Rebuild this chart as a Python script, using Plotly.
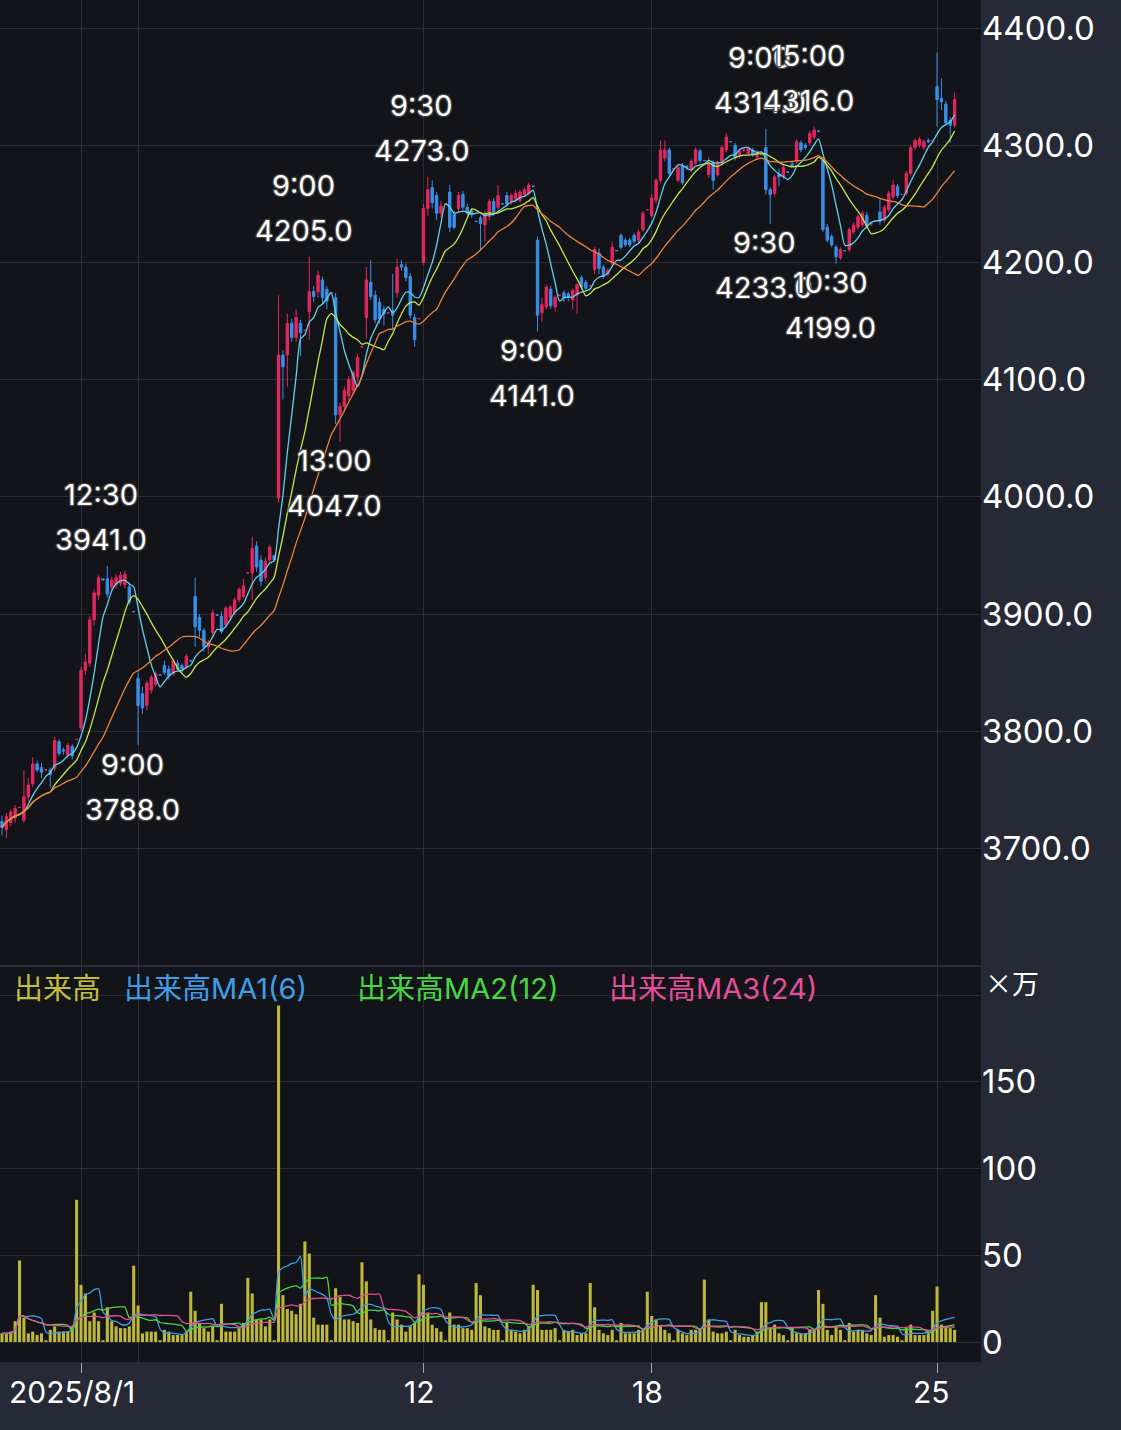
import plotly.graph_objects as go
import pandas as pd

# ---------------- data (30-minute bars, 13 per trading day) ----------------
day_starts = [0, 13, 78, 130, 195]          # bar index of 9:00 on 8/1, 8/4, 8/12, 8/18, 8/25
tick_idx = [0, 78, 130, 195]
tick_text = ["2025/8/1", "12", "18", "25"]

opens = [
    3723, 3716, 3722, 3726, 3735,
    3724, 3744, 3755, 3772, 3769, 3767, 3767, 3768, 3791, 3784, 3780, 3787, 3793,
    3803, 3852, 3858, 3895, 3916, 3930, 3930, 3923, 3925, 3926, 3925, 3923, 3902,
    3845, 3832, 3822, 3835, 3840, 3848, 3856, 3853, 3849, 3858, 3856, 3855, 3860,
    3915, 3897, 3886, 3872, 3884, 3899, 3898, 3891, 3897, 3901, 3912, 3915, 3935,
    3935, 3958, 3946, 3931, 3946, 3950, 3999, 4121, 4121, 4148, 4136, 4148, 4142,
    4158, 4175, 4175, 4185, 4177, 4174, 4170, 4070, 4077, 4086, 4091, 4102, 4128,
    4153, 4183, 4172, 4166, 4160, 4157, 4159, 4174, 4198, 4196, 4188, 4153, 4152,
    4200, 4246, 4264, 4257, 4242, 4250, 4260, 4241, 4246, 4258, 4247, 4244, 4235,
    4238, 4232, 4239, 4252, 4247, 4250, 4257, 4252, 4254, 4253, 4258, 4259, 4265,
    4219, 4157, 4162, 4177, 4162, 4172, 4174, 4173, 4168, 4172, 4187, 4183, 4180,
    4194, 4208, 4196, 4190, 4199, 4210, 4223, 4219, 4219, 4223, 4219, 4228, 4245,
    4240, 4253, 4270, 4289, 4296, 4280, 4270, 4282, 4282, 4279, 4285, 4295, 4287,
    4275, 4285, 4275, 4285, 4296, 4303, 4300, 4291, 4296, 4293, 4296, 4290, 4292,
    4298, 4262, 4259, 4275, 4273, 4277, 4284, 4286, 4302, 4300, 4302, 4307, 4312,
    4287, 4230, 4222, 4213, 4204, 4210, 4211, 4226, 4230, 4232, 4240, 4233, 4235,
    4243, 4236, 4245, 4256, 4265, 4258, 4259, 4276, 4298, 4300, 4298, 4304, 4304,
    4350, 4340, 4335, 4321, 4317,
]
highs = [
    3728, 3730, 3733, 3737, 3735,
    3767, 3760, 3778, 3775, 3773, 3767, 3769, 3795, 3793, 3786, 3790, 3789, 3793,
    3855, 3866, 3898, 3921, 3933, 3930, 3941, 3932, 3934, 3936, 3937, 3927, 3902,
    3850, 3838, 3843, 3848, 3851, 3848, 3860, 3856, 3862, 3861, 3858, 3866, 3860,
    3931, 3900, 3888, 3878, 3904, 3899, 3902, 3907, 3908, 3914, 3923, 3930, 3935,
    3966, 3962, 3950, 3948, 3959, 3950, 4172, 4125, 4156, 4152, 4160, 4151, 4142,
    4205, 4180, 4193, 4188, 4180, 4174, 4174, 4080, 4094, 4103, 4108, 4122, 4128,
    4196, 4202, 4176, 4170, 4163, 4157, 4190, 4203, 4202, 4199, 4191, 4156, 4152,
    4250, 4273, 4270, 4260, 4252, 4250, 4266, 4244, 4260, 4261, 4250, 4246, 4235,
    4240, 4244, 4254, 4255, 4266, 4250, 4260, 4259, 4262, 4262, 4264, 4268, 4265,
    4222, 4170, 4181, 4180, 4172, 4172, 4176, 4175, 4178, 4182, 4189, 4185, 4180,
    4213, 4212, 4198, 4195, 4218, 4210, 4225, 4221, 4221, 4225, 4228, 4244, 4245,
    4258, 4272, 4304, 4304, 4298, 4280, 4283, 4285, 4283, 4288, 4298, 4297, 4287,
    4290, 4287, 4287, 4300, 4310, 4303, 4302, 4297, 4298, 4299, 4298, 4296, 4292,
    4314, 4264, 4275, 4280, 4283, 4277, 4286, 4305, 4304, 4302, 4312, 4316, 4312,
    4290, 4233, 4224, 4215, 4213, 4210, 4230, 4234, 4241, 4244, 4243, 4234, 4235,
    4255, 4249, 4261, 4270, 4267, 4258, 4278, 4300, 4306, 4307, 4305, 4306, 4304,
    4379, 4357, 4338, 4324, 4345,
]
lows = [
    3711, 3709, 3719, 3722, 3735,
    3722, 3740, 3752, 3765, 3760, 3767, 3752, 3766, 3779, 3780, 3777, 3776, 3793,
    3800, 3848, 3855, 3890, 3912, 3929, 3914, 3918, 3922, 3924, 3922, 3908, 3902,
    3788, 3815, 3818, 3832, 3838, 3848, 3848, 3844, 3847, 3851, 3850, 3853, 3860,
    3872, 3880, 3868, 3866, 3880, 3899, 3883, 3888, 3894, 3899, 3910, 3913, 3935,
    3912, 3936, 3924, 3928, 3943, 3946, 3995, 4083, 4094, 4132, 4132, 4120, 4142,
    4134, 4166, 4170, 4165, 4160, 4174, 4062, 4047, 4072, 4082, 4088, 4098, 4128,
    4135, 4168, 4148, 4148, 4146, 4157, 4142, 4170, 4193, 4184, 4152, 4128, 4152,
    4198, 4240, 4246, 4236, 4238, 4250, 4226, 4228, 4243, 4245, 4240, 4238, 4235,
    4211, 4218, 4236, 4240, 4244, 4250, 4248, 4249, 4251, 4251, 4256, 4257, 4265,
    4141, 4149, 4160, 4160, 4158, 4172, 4166, 4167, 4160, 4156, 4177, 4176, 4180,
    4190, 4190, 4186, 4188, 4197, 4210, 4211, 4213, 4213, 4216, 4217, 4226, 4245,
    4238, 4250, 4268, 4286, 4274, 4280, 4268, 4266, 4279, 4277, 4283, 4285, 4287,
    4272, 4262, 4273, 4283, 4294, 4303, 4287, 4289, 4294, 4291, 4290, 4288, 4292,
    4258, 4233, 4256, 4265, 4271, 4277, 4282, 4284, 4294, 4296, 4300, 4305, 4312,
    4226, 4217, 4213, 4199, 4202, 4210, 4209, 4224, 4228, 4230, 4229, 4231, 4235,
    4232, 4234, 4243, 4254, 4255, 4258, 4257, 4274, 4296, 4298, 4296, 4302, 4304,
    4316, 4330, 4317, 4302, 4315,
]
closes = [
    3718, 3727, 3731, 3734, 3735,
    3744, 3754, 3772, 3767, 3765, 3767, 3763, 3792, 3781, 3783, 3788, 3779, 3793,
    3852, 3859, 3895, 3918, 3931, 3929, 3917, 3929, 3931, 3933, 3934, 3910, 3902,
    3822, 3820, 3841, 3846, 3849, 3848, 3850, 3847, 3860, 3853, 3853, 3864, 3860,
    3889, 3886, 3872, 3875, 3901, 3899, 3885, 3905, 3906, 3912, 3921, 3924, 3935,
    3956, 3940, 3928, 3945, 3957, 3946, 4121, 4111, 4148, 4136, 4153, 4140, 4142,
    4175, 4171, 4189, 4170, 4167, 4174, 4070, 4077, 4091, 4100, 4106, 4119, 4128,
    4185, 4171, 4151, 4152, 4156, 4157, 4155, 4196, 4196, 4187, 4155, 4134, 4152,
    4246, 4262, 4251, 4242, 4248, 4250, 4230, 4230, 4257, 4247, 4242, 4241, 4235,
    4233, 4241, 4252, 4243, 4257, 4250, 4250, 4257, 4259, 4260, 4262, 4266, 4265,
    4155, 4164, 4179, 4163, 4170, 4172, 4170, 4170, 4176, 4181, 4179, 4178, 4180,
    4211, 4195, 4188, 4193, 4213, 4210, 4213, 4215, 4215, 4218, 4226, 4242, 4245,
    4255, 4270, 4296, 4296, 4276, 4280, 4281, 4268, 4281, 4286, 4296, 4287, 4287,
    4285, 4270, 4285, 4298, 4307, 4303, 4289, 4295, 4296, 4297, 4292, 4294, 4292,
    4262, 4258, 4273, 4273, 4281, 4277, 4283, 4303, 4296, 4298, 4310, 4313, 4312,
    4228, 4219, 4215, 4205, 4211, 4210, 4228, 4232, 4239, 4242, 4231, 4233, 4235,
    4235, 4247, 4259, 4266, 4257, 4258, 4276, 4298, 4304, 4305, 4303, 4303, 4304,
    4339, 4337, 4319, 4317, 4339,
]
volumes = [  # 万株
    5, 5, 6, 12, 47,
    14, 5, 6, 4, 5, 1, 7, 9, 6, 6, 6, 9, 82,
    33, 28, 12, 17, 12, 1, 20, 12, 9, 8, 8, 9, 44,
    21, 5, 6, 6, 6, 1, 7, 6, 4, 4, 4, 6, 29,
    18, 11, 8, 6, 9, 1, 22, 6, 6, 6, 8, 11, 37,
    28, 13, 13, 9, 13, 1, 194, 27, 19, 18, 16, 22, 58,
    51, 14, 10, 10, 10, 1, 31, 26, 13, 13, 12, 11, 46,
    35, 13, 8, 7, 7, 1, 17, 13, 10, 6, 9, 11, 39,
    33, 17, 10, 8, 6, 1, 17, 10, 10, 8, 8, 7, 34,
    27, 9, 8, 7, 7, 1, 11, 7, 6, 5, 7, 9, 33,
    30, 7, 7, 7, 8, 1, 7, 6, 7, 4, 5, 5, 34,
    20, 7, 5, 4, 7, 1, 11, 5, 5, 5, 7, 7, 29,
    15, 13, 9, 7, 5, 1, 7, 5, 4, 7, 7, 8, 36,
    13, 6, 5, 5, 6, 1, 7, 4, 3, 3, 4, 6, 23,
    23, 8, 10, 5, 4, 1, 8, 5, 5, 5, 7, 7, 30,
    22, 7, 4, 9, 7, 1, 11, 6, 7, 7, 5, 4, 27,
    14, 3, 4, 4, 3, 1, 8, 10, 4, 4, 4, 5, 18,
    32, 10, 9, 8, 7,
]
bar_index = list(range(-18, -18 + len(closes)))

# high / low markers
mark_idx = [6, 13, 52, 59, 79, 104, 156, 157, 167, 172]
mark_time = ["12:30", "9:00", "9:00", "13:00", "9:30", "9:00", "9:00", "9:30", "15:00", "10:30"]
mark_kind = ["high", "low", "high", "low", "high", "low", "high", "low", "high", "low"]

price_ticks = [3700, 3800, 3900, 4000, 4100, 4200, 4300, 4400]
vol_ticks = [0, 50, 100, 150, 200]
vol_tick_text = ["0", "50", "100", "150", ""]

price_ma_windows = [6, 12, 24]
vol_ma_windows = [6, 12, 24]
vol_legend = ["出来高", "出来高MA1(6)", "出来高MA2(12)", "出来高MA3(24)"]

assert len(opens) == len(highs) == len(lows) == len(closes) == len(volumes) == 218

# ---------------- styling ----------------
UP = "#e3275f"
DOWN = "#3b8fe8"
PRICE_MA_COLORS = ["#62d2ec", "#c4e84c", "#e8843c"]
VOL_COLOR = "#bdb83a"
VOL_MA_COLORS = ["#3f9de6", "#46d840", "#e2509a"]
VOL_LEG_COLORS = ["#c4be3e"] + VOL_MA_COLORS
PLOT_BG = "#131419"
PAPER_BG = "#262936"
GRID = "#2b2d36"
NUM_FONT = "Inter, Liberation Sans, sans-serif"
LEG_FONT = "Inter, Noto Sans CJK JP, sans-serif"
CJK_FONT = "Noto Sans CJK JP, sans-serif"

W, H = 1121, 1430
ML, MR, MT, MB = 0, 140, 0, 68
PW, PH = W - ML - MR, H - MT - MB
split = (PH - 966) / PH      # price / volume boundary in paper coords

px_per_bar = 4.39
x0_px = 81
x_range = [-x0_px / px_per_bar, (PW - x0_px) / px_per_bar]

close_s = pd.Series(closes, dtype=float)
vol_s = pd.Series(volumes, dtype=float)

fig = go.Figure()

fig.add_trace(go.Candlestick(
    x=bar_index, open=opens, high=highs, low=lows, close=closes,
    increasing=dict(line=dict(color=UP, width=1), fillcolor=UP),
    decreasing=dict(line=dict(color=DOWN, width=1), fillcolor=DOWN),
    whiskerwidth=0, xaxis="x", yaxis="y", hoverinfo="skip",
))
for w, c in zip(price_ma_windows, PRICE_MA_COLORS):
    fig.add_trace(go.Scatter(
        x=bar_index, y=close_s.rolling(w, min_periods=1).mean(), mode="lines",
        line=dict(color=c, width=1.3, shape="spline", smoothing=0.6),
        xaxis="x", yaxis="y", hoverinfo="skip",
    ))

fig.add_trace(go.Bar(
    x=bar_index, y=volumes, marker=dict(color=VOL_COLOR, line=dict(width=0)),
    xaxis="x2", yaxis="y2", hoverinfo="skip",
))
for w, c in zip(vol_ma_windows, VOL_MA_COLORS):
    fig.add_trace(go.Scatter(
        x=bar_index, y=vol_s.rolling(w, min_periods=1).mean(), mode="lines",
        line=dict(color=c, width=1.3, shape="spline", smoothing=0.6),
        xaxis="x2", yaxis="y2", hoverinfo="skip",
    ))

annotations = []
# high / low labels
for i, t, k in zip(mark_idx, mark_time, mark_kind):
    pos = i - bar_index[0]
    val = highs[pos] if k == "high" else lows[pos]
    if k == "high":
        shifts = [(t, 71), (f"{val:.1f}", 26)]
    else:
        shifts = [(t, -19), (f"{val:.1f}", -64)]
    for txt, ys in shifts:
        annotations.append(dict(
            x=i, y=val, xref="x", yref="y", text=txt, showarrow=False,
            xanchor="center", yanchor="middle", xshift=-6, yshift=ys,
            font=dict(family=NUM_FONT, size=29, color="#ffffff", shadow="auto"),
        ))

# volume legend
leg_px = [12, 122, 355, 607]
for txt, c, lx in zip(vol_legend, VOL_LEG_COLORS, leg_px):
    annotations.append(dict(
        x=lx / PW, y=(PH - 988) / PH, xref="paper", yref="paper", text=txt,
        showarrow=False, xanchor="left", yanchor="middle",
        font=dict(family=LEG_FONT, size=29, color=c),
    ))
annotations.append(dict(
    x=(983) / PW, y=(PH - 983) / PH, xref="paper", yref="paper", text="×万",
    showarrow=False, xanchor="left", yanchor="middle",
    font=dict(family=CJK_FONT, size=27, color="#ffffff"),
))
# x tick labels
xl_shift = [-9, -4, -4, -6]
for v, txt, s in zip(tick_idx, tick_text, xl_shift):
    annotations.append(dict(
        x=v, y=-(1392 - PH) / PH, xref="x2", yref="paper", text=txt,
        showarrow=False, xanchor="center", yanchor="middle", xshift=s,
        font=dict(family=NUM_FONT, size=30, color="#ffffff"),
    ))

common_x = dict(
    range=x_range, showgrid=True, gridcolor=GRID, gridwidth=1, zeroline=False,
    showline=False, tickmode="array", tickvals=tick_idx, showticklabels=False,
    minor=dict(tickmode="array", tickvals=[day_starts[1]], showgrid=True,
               gridcolor=GRID, gridwidth=1, ticks=""),
    rangeslider=dict(visible=False), fixedrange=True,
)

fig.update_layout(
    width=W, height=H, margin=dict(l=ML, r=MR, t=MT, b=MB),
    paper_bgcolor=PAPER_BG, plot_bgcolor=PLOT_BG, showlegend=False,
    boxgap=0.22, bargap=0.3, hovermode=False,
    xaxis=dict(anchor="y", domain=[0, 1], ticks="", **common_x),
    xaxis2=dict(anchor="y2", domain=[0, 1], ticks="outside", ticklen=10,
                tickcolor="#a0a3ad", tickwidth=1, **common_x),
    yaxis=dict(domain=[split, 1], range=[4400 - (966 - 28) / 1.172, 4400 + 28 / 1.172],
               side="right", tickmode="array", tickvals=price_ticks,
               ticktext=[f"{v:.1f}" for v in price_ticks],
               tickfont=dict(family=NUM_FONT, size=33, color="#ffffff"),
               gridcolor=GRID, zeroline=False, showline=False, ticks="", fixedrange=True),
    yaxis2=dict(domain=[0, split], range=[-(1362 - 1342) / 1.734, (1342 - 966) / 1.734],
                side="right", tickmode="array", tickvals=vol_ticks, ticktext=vol_tick_text,
                tickfont=dict(family=NUM_FONT, size=33, color="#ffffff"),
                gridcolor=GRID, zeroline=False, showline=False, ticks="", fixedrange=True),
    annotations=annotations,
    shapes=[dict(type="line", xref="paper", yref="paper", x0=0, x1=1, y0=split, y1=split,
                 line=dict(color="#33364a", width=1.5))],
)

fig.write_html(
    "out.html",
    config={"displayModeBar": False, "staticPlot": True},
    post_script="document.body.style.margin='0';document.body.style.background='#262936';",
)
